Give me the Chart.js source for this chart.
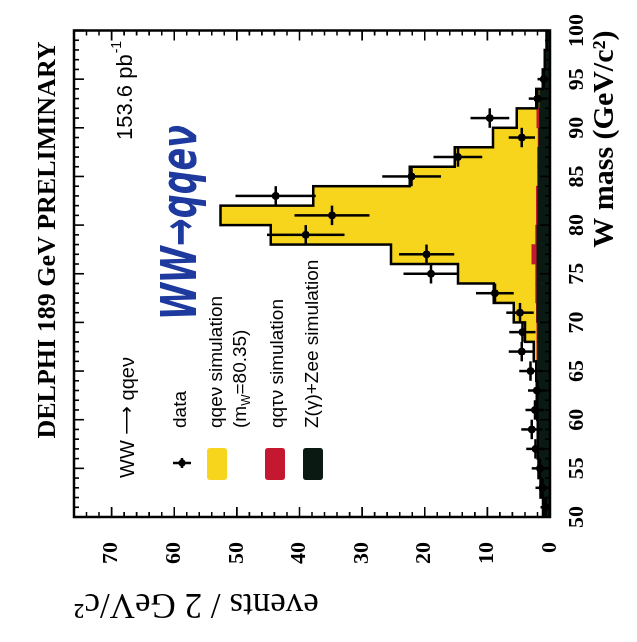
<!DOCTYPE html>
<html><head><meta charset="utf-8">
<script src="https://cdn.jsdelivr.net/npm/chart.js@4"></script>
<style>
html,body{margin:0;padding:0;background:#fff;overflow:hidden;width:637px;height:642px;}
#wrap{position:absolute;left:0;top:0;width:642px;height:637px;transform-origin:0 0;transform:translate(0px,642px) rotate(-90deg);}
canvas{display:block;}
</style></head><body>
<div id="wrap"><canvas id="c" width="642" height="637"></canvas></div>
<script>
// W mass bin centres (2 GeV/c^2 bins, 50-100)
const massBins   = [51,53,55,57,59,61,63,65,67,69,71,73,75,77,79,81,83,85,87,89,91,93,95,97,99];
// data points and their error bars
const dataCounts = [0.7,1.2,1.6,2.3,2.9,2.4,2.1,3.1,4.5,4.4,4.8,8.8,19,19.7,39,34.8,43.8,22.1,14.7,4.5,9.6,2,1,null,null];
const dataErrors = [0.8,1.1,1.3,1.5,1.7,1.5,1.4,1.8,2.1,2.1,2.2,3.0,4.4,4.4,6.2,6.0,6.4,4.7,3.9,2.1,3.1,1.4,1.0,null,null];
// simulation (stacked): Z(gamma)+Zee at bottom, qqtaunu, then qqenu on top
const simZEE  = [1.0,1.4,1.7,1.8,1.8,1.9,1.9,2.0,2.0,2.0,2.1,2.1,2.1,2.1,2.1,2.0,2.0,1.9,1.9,1.8,1.7,1.6,1.1,0.8,0.5];
const simQQTV = [0.05,0.05,0.05,0.05,0.05,0.05,0.05,0.1,0.1,0.1,0.1,0.2,0.2,0.8,0.2,0.2,0.2,0.1,0.1,0.1,0.4,0.1,0.05,0.05,0.05];
const simQQEV = [0.05,0.05,0.1,0.1,0.1,0.1,0.1,0.1,0.5,1.9,3.6,6.7,12.4,22.5,42.3,50.4,35.6,20.4,13.2,7.2,3.2,0.5,0,0,0];
const massTickStep = 5;
const eventTickStep = 10;

const COL_QQEV = '#f7d51c';
const COL_QQTV = '#c41830';
const COL_ZEE  = '#0a1a12';
const SERIF = '"Liberation Serif", "DejaVu Serif", serif';
const SANS  = '"Liberation Sans", "DejaVu Sans", sans-serif';

const pts = arr => massBins.map((m, i) => ({x: m, y: arr[i]}));
const totals = massBins.map((m, i) => simZEE[i] + simQQTV[i] + simQQEV[i]);
const outline = massBins.map((m, i) => ({x: m - 1, y: totals[i]}));
outline.push({x: massBins[massBins.length - 1] + 1, y: totals[totals.length - 1]});

const decor = {
  id: 'decor',
  afterDatasetsDraw(chart) {
    const {ctx, chartArea: a, scales: {x, y}} = chart;
    ctx.save();
    ctx.strokeStyle = '#000';
    ctx.lineWidth = 2.5;
    ctx.beginPath();
    massBins.forEach((m, i) => {
      const v = dataCounts[i];
      if (v == null) return;
      const e = dataErrors[i];
      const px = x.getPixelForValue(m), py = y.getPixelForValue(v);
      ctx.moveTo(px, y.getPixelForValue(Math.max(0, v - e)));
      ctx.lineTo(px, y.getPixelForValue(v + e));
      ctx.moveTo(x.getPixelForValue(m - 1), py);
      ctx.lineTo(x.getPixelForValue(m + 1), py);
    });
    ctx.stroke();
    // frame
    ctx.lineWidth = 2.5;
    ctx.strokeRect(a.left, a.top, a.right - a.left, a.bottom - a.top);
    // inward ticks
    ctx.lineWidth = 1.6;
    ctx.beginPath();
    for (let m = x.min; m <= x.max; m += 1) {
      const px = x.getPixelForValue(m);
      const L = (m % massTickStep === 0) ? 10 : 5;
      ctx.moveTo(px, a.bottom); ctx.lineTo(px, a.bottom - L);
      ctx.moveTo(px, a.top); ctx.lineTo(px, a.top + L);
    }
    for (let n = 0; n <= y.max; n += 2) {
      const py = y.getPixelForValue(n);
      const L = (n % eventTickStep === 0) ? 10 : 5;
      ctx.moveTo(a.left, py); ctx.lineTo(a.left + L, py);
      ctx.moveTo(a.right, py); ctx.lineTo(a.right - L, py);
    }
    ctx.stroke();
    ctx.restore();
  },
  afterDraw(chart) {
    const ctx = chart.ctx;
    ctx.save();
    ctx.fillStyle = '#000';
    // title
    ctx.font = 'bold 26px ' + SERIF;
    ctx.textAlign = 'center'; ctx.textBaseline = 'middle';
    ctx.fillText('DELPHI 189 GeV PRELIMINARY', 402, 48);
    // luminosity
    ctx.textAlign = 'left';
    ctx.font = '22px ' + SANS;
    ctx.fillText('153.6 pb', 502, 126);
    const w = ctx.measureText('153.6 pb').width;
    ctx.font = '14px ' + SANS;
    ctx.fillText('-1', 502 + w + 1, 117);
    // handwritten note
    ctx.save();
    ctx.fillStyle = '#1f3a9e';
    ctx.font = 'bold italic 34px "DejaVu Sans", sans-serif';
    const hw = 'WW\u2192qqe\u03bd';
    const tw = ctx.measureText(hw).width;
    ctx.translate(322, 196);
    ctx.scale(195 / tw, 1.45);
    ctx.textBaseline = 'alphabetic';
    ctx.fillText(hw, 0, 0);
    ctx.restore();
    // legend
    ctx.textBaseline = 'middle';
    ctx.font = '20px ' + SANS;
    ctx.fillText('WW', 164, 128);
    let ax = 164 + ctx.measureText('WW ').width;
    ctx.font = '20px "DejaVu Sans", sans-serif';
    ctx.fillText('\u27f6', ax, 128);
    ax += ctx.measureText('\u27f6').width;
    ctx.font = '20px ' + SANS;
    ctx.fillText(' qqe\u03bd', ax, 128);
    // data marker
    ctx.strokeStyle = '#000'; ctx.lineWidth = 2.5;
    ctx.beginPath();
    ctx.moveTo(174, 182); ctx.lineTo(184, 182);
    ctx.moveTo(179, 173); ctx.lineTo(179, 191);
    ctx.stroke();
    ctx.beginPath(); ctx.arc(179, 182, 3.5, 0, Math.PI * 2); ctx.fill();
    ctx.font = '19px ' + SANS;
    ctx.fillText('data', 214, 181);
    // boxes
    const box = (col, v) => { ctx.fillStyle = col; ctx.beginPath(); ctx.roundRect(162, v, 32, 20, 3); ctx.fill(); };
    box(COL_QQEV, 207);
    box(COL_QQTV, 265);
    box(COL_ZEE, 303);
    ctx.fillStyle = '#000';
    ctx.fillText('qqe\u03bd simulation', 214, 217);
    ctx.fillText('(m', 214, 241);
    let wx = 214 + ctx.measureText('(m').width;
    ctx.font = '12px ' + SANS;
    ctx.fillText('W', wx, 247);
    wx += ctx.measureText('W').width;
    ctx.font = '19px ' + SANS;
    ctx.fillText('=80.35)', wx, 241);
    ctx.fillText('qq\u03c4\u03bd simulation', 214, 278);
    ctx.fillText('Z(\u03b3)+Zee simulation', 214, 313);
    ctx.restore();
  }
};

new Chart(document.getElementById('c'), {
  type: 'bar',
  data: {
    datasets: [
      { type: 'line', label: 'data', data: pts(dataCounts), showLine: false, pointRadius: 3.5,
        pointBackgroundColor: '#000', pointBorderColor: '#000', stack: 'data', order: 0 },
      { type: 'line', label: 'total', data: outline, stepped: true, borderColor: '#000', borderWidth: 2.5,
        pointRadius: 0, fill: false, stack: 'outline', order: 1 },
      { label: 'Z(\u03b3)+Zee simulation', data: pts(simZEE), backgroundColor: COL_ZEE, stack: 'sim', order: 2,
        barPercentage: 1, categoryPercentage: 1, borderWidth: 0 },
      { label: 'qq\u03c4\u03bd simulation', data: pts(simQQTV), backgroundColor: COL_QQTV, stack: 'sim', order: 3,
        barPercentage: 1, categoryPercentage: 1, borderWidth: 0 },
      { label: 'qqe\u03bd simulation', data: pts(simQQEV), backgroundColor: COL_QQEV, stack: 'sim', order: 4,
        barPercentage: 1, categoryPercentage: 1, borderWidth: 0 }
    ]
  },
  options: {
    responsive: false,
    animation: false,
    devicePixelRatio: 1,
    layout: { padding: { top: 74, right: 26, left: 0, bottom: 0 } },
    plugins: { legend: { display: false }, tooltip: { enabled: false }, title: { display: false } },
    scales: {
      x: {
        type: 'linear', min: 50, max: 100, offset: false, stacked: true,
        grid: { display: false, drawTicks: false }, border: { display: false },
        ticks: { stepSize: massTickStep, color: '#000', padding: 14, maxRotation: 0, autoSkip: false,
                 font: { family: SERIF, size: 22, weight: 'bold' } },
        title: { display: true, text: 'W mass (GeV/c\u00b2)', align: 'end', color: '#000',
                 font: { family: SERIF, size: 30, weight: 'bold' }, padding: { top: 14, bottom: 14 } },
        afterFit(s) { s.height = 87; }
      },
      y: {
        min: 0, max: 76, stacked: true,
        grid: { display: false, drawTicks: false }, border: { display: false },
        ticks: { stepSize: eventTickStep, includeBounds: false, color: '#000', padding: 25,
                 font: { family: SERIF, size: 22, weight: 'bold' } },
        title: { display: true, text: 'events / 2 GeV/c\u00b2', align: 'end', color: '#000',
                 font: { family: SERIF, size: 35 }, padding: { top: 18, bottom: 18 } },
        afterFit(s) { s.width = 125; }
      }
    }
  },
  plugins: [decor]
});
</script>
</body></html>
